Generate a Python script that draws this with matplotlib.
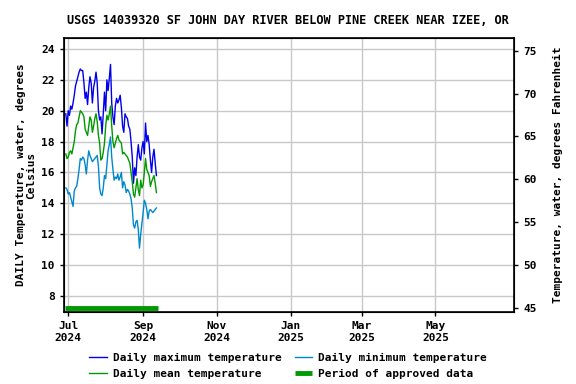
import matplotlib
matplotlib.use("Agg")
import matplotlib.pyplot as plt
import matplotlib.dates as mdates
import numpy as np
import pandas as pd

start_date = "2024-06-29"
daily_max = [19.8, 19.0, 20.0, 19.7, 20.3, 20.1, 20.5, 21.0, 21.6, 21.9,
             22.2, 22.5, 22.7, 22.6, 22.6, 21.8, 20.8, 21.2, 20.4, 21.5,
             22.2, 21.8, 20.5, 21.5, 21.9, 22.5, 21.8, 20.0, 19.4, 19.6,
             18.5, 19.8, 21.2, 20.0, 22.0, 21.3, 22.1, 23.0, 20.5, 19.6,
             19.1, 20.3, 20.8, 20.5, 20.7, 21.0, 20.2, 19.0, 18.6, 19.8,
             19.6, 19.5, 19.0, 18.8, 18.0, 17.0, 15.3, 16.3, 15.8, 17.0,
             17.8, 17.0, 16.8, 17.6, 18.0, 17.2, 19.2, 18.0, 18.4, 17.8,
             16.8, 16.0, 17.0, 17.5, 16.6, 15.8]
daily_mean = [17.2, 16.9, 17.0, 17.3, 17.4, 17.2, 17.6, 18.0, 18.7, 19.1,
              19.2, 19.6, 20.0, 19.9, 19.8, 19.6, 18.8, 18.6, 18.4, 19.0,
              19.6, 19.4, 18.6, 19.0, 19.5, 19.8, 19.3, 18.4, 17.9, 16.8,
              16.9, 17.3, 17.9, 19.0, 19.7, 19.4, 19.8, 20.3, 19.0, 18.0,
              17.6, 17.9, 18.2, 18.4, 18.1, 18.0, 17.9, 17.2, 17.3, 17.2,
              17.1, 17.0, 16.8, 16.6, 16.0, 15.4, 14.6, 14.4, 15.0, 15.6,
              14.9, 14.5, 15.5, 15.0, 15.2, 16.0, 16.9, 16.2, 16.0, 15.8,
              15.1, 15.4, 15.6, 15.8, 15.3, 14.7]
daily_min = [15.0, 14.9, 14.6, 14.7, 14.4, 14.1, 13.8, 14.8, 15.0, 15.1,
             15.6, 16.2, 16.9, 16.8, 17.0, 16.9, 16.5, 15.9, 16.8, 17.4,
             17.1, 16.9, 16.7, 16.8, 16.9, 17.0, 17.1, 16.4, 15.0, 14.6,
             14.5, 15.0, 15.8, 15.6, 16.5, 17.4, 17.8, 18.3, 17.0, 16.2,
             15.5, 15.7, 15.6, 15.9, 15.5, 15.7, 16.0, 15.0, 15.4, 15.2,
             14.7, 14.9, 14.8, 14.6, 14.3, 13.7, 12.6, 12.4, 12.8, 12.9,
             12.3, 11.1, 12.0, 12.7, 13.4, 14.2, 14.0, 13.6, 13.0, 13.5,
             13.6, 13.5, 13.4, 13.5, 13.6, 13.7]
approved_period = ["2024-06-28", "2024-09-13"]
approved_level = 7.2

x_ticks = ["2024-07-01", "2024-09-01", "2024-11-01", "2025-01-01", "2025-03-01", "2025-05-01"]
x_ticklabels = ["Jul\n2024", "Sep\n2024", "Nov\n2024", "Jan\n2025", "Mar\n2025", "May\n2025"]
y_ticks = [8, 10, 12, 14, 16, 18, 20, 22, 24]
f_ticks = [45, 50, 55, 60, 65, 70, 75]

dates = pd.date_range(start_date, periods=len(daily_max), freq="D")

plt.rcParams['font.family'] = ['DejaVu Sans Mono']
plt.rcParams['font.weight'] = 'bold'
fs = 8

fig = plt.figure(figsize=(5.76, 3.84), dpi=100)
ax = fig.add_axes([64/576, 1-312/384, 450/576, 274/384])

l_max, = ax.plot(dates, daily_max, color="#0000ee", lw=1.0, label="Daily maximum temperature")
l_mean, = ax.plot(dates, daily_mean, color="#009900", lw=1.0, label="Daily mean temperature")
l_min, = ax.plot(dates, daily_min, color="#0088cc", lw=1.0, label="Daily minimum temperature")
l_app, = ax.plot(pd.to_datetime(approved_period), [approved_level]*2, color="#009900", lw=3.5,
                 solid_capstyle="butt", label="Period of approved data")

ax.set_xlim(pd.Timestamp("2024-06-27 12:00"), pd.Timestamp("2025-07-05"))
ylim = (6.96, 24.71)
ax.set_ylim(*ylim)
ax.set_yticks(y_ticks)
ax.set_yticklabels([str(v) for v in y_ticks], fontsize=fs, fontweight='bold')
ax.set_xticks(pd.to_datetime(x_ticks))
ax.set_xticklabels(x_ticklabels, fontsize=fs, fontweight='bold')
ax.grid(True, color="#c8c8c8", lw=1.0)
ax.set_axisbelow(True)
for s in ax.spines.values():
    s.set_linewidth(1.2)
ax.tick_params(axis='both', length=3, width=1)
ax.set_ylabel("DAILY Temperature, water, degrees\nCelsius", fontsize=fs, fontweight='bold', linespacing=1.0)

ax2 = ax.twinx()
ax2.set_ylim(ylim[0]*9/5+32, ylim[1]*9/5+32)
ax2.set_yticks(f_ticks)
ax2.set_yticklabels([str(v) for v in f_ticks], fontsize=fs, fontweight='bold')
ax2.tick_params(axis='y', length=3, width=1)
ax2.set_ylabel("Temperature, water, degrees Fahrenheit", fontsize=fs, fontweight='bold', labelpad=12)

fig.text(0.5, 1 - 20/384,
         "USGS 14039320 SF JOHN DAY RIVER BELOW PINE CREEK NEAR IZEE, OR",
         fontsize=8.6, fontweight='bold', ha='center', va='center')

leg = fig.legend(handles=[l_max, l_mean, l_min, l_app], ncol=2, loc="upper center",
                 bbox_to_anchor=(0.5, 1-343/384), frameon=False, fontsize=fs,
                 handlelength=1.6, columnspacing=1.2, labelspacing=0.55, handletextpad=0.5)
for t in leg.get_texts():
    t.set_fontweight('bold')

fig.savefig("out.png", dpi=100)
